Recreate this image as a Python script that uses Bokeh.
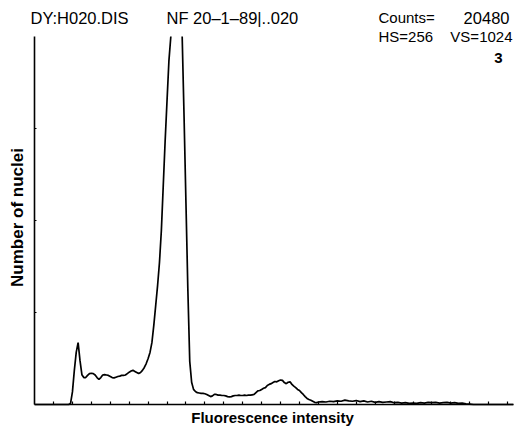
from bokeh.plotting import figure
from bokeh.models import Range1d, Label, FixedTicker
from bokeh.embed import file_html
from bokeh.resources import INLINE
import math

# ---- data ----
# the display is clipped at VS=1024; the main peak runs off scale between the two NaN-separated sides
channel = [0, 18, 19, 20, 21, 22, 23, 24, 25, 26, 27, 28, 29, 30, 31, 32, 33, 34, 35, 36,
           37, 38, 39, 40, 41, 42, 43, 44, 45, 46, 47, 48, 49, 50, 51, 52, 53, 54, 55, 56,
           57, 58, 59, 60, 61, 62, 63, 64, 65, 66, 67, 68, 69, 70, 71, 72, 75, 78, 79, 80,
           81, 82, 83, 84, 85, 86, 87, 88, 89, 90, 91, 92, 93, 94, 95, 96,
           97, 98, 99, 100, 101, 102, 103, 104, 105, 106, 107, 108, 109, 110, 111, 112, 113, 114, 115, 116,
           117, 118, 119, 120, 121, 122, 123, 124, 125, 126, 127, 128, 129, 130, 131, 132, 133, 134, 135, 136,
           137, 138, 139, 140, 141, 142, 143, 144, 145, 146, 147, 148, 149, 150, 152, 154, 156, 158, 160, 162,
           164, 166, 168, 170, 172, 174, 176, 178, 180, 182, 184, 186, 188, 190, 192, 194, 196, 198, 200, 202,
           204, 206, 208, 210, 212, 214, 216, 218, 220, 222, 224, 226, 228, 230, 232, 253]
counts = [0, 0, 3, 35, 95, 145, 172, 122, 83, 75, 75, 81, 86, 87, 86, 82, 75, 70, 75, 82,
          83, 82, 81, 78, 75, 74, 76, 78, 79, 81, 81, 82, 86, 90, 93, 95, 92, 89, 86, 89,
          95, 103, 114, 128, 145, 172, 220, 275, 331, 395, 484, 609, 734, 846, 957, 1024, float("nan"), 1024, 800, 560,
          320, 120, 62, 42, 36, 33, 32, 31, 31, 30, 28, 25, 22, 24, 28, 28,
          26, 26, 25, 25, 24, 22, 21, 22, 24, 25, 25, 26, 25, 25, 26, 25, 26, 26, 27, 28,
          33, 38, 39, 42, 45, 47, 53, 56, 58, 61, 64, 63, 66, 68, 67, 61, 58, 62, 63, 56,
          51, 47, 42, 39, 33, 28, 22, 17, 14, 12, 9, 6, 5, 7, 8, 7, 9, 8, 10, 9,
          12, 10, 9, 11, 8, 10, 7, 9, 6, 8, 6, 7, 8, 5, 6, 4, 5, 3, 4, 3,
          5, 4, 6, 5, 6, 4, 5, 6, 4, 5, 3, 4, 2, 1, 0, 0]

x_ticks = list(range(10, 260, 10))
y_ticks = [256, 512, 768]
x_extent = (0, 253)
y_extent = (0, 1024)

# page-pixel helpers (canvas covers the whole window)
def px_x(px):
    return (px - 34.1) / 1.892

def px_y(py):
    return (404 - py) / (368 / 1024)

W, H = 521, 426
FONT = "Liberation Sans"

p = figure(width=W, height=H, output_backend="svg", toolbar_location=None,
           x_range=Range1d(px_x(0), px_x(W)), y_range=Range1d(px_y(H), px_y(0)),
           min_border=0)
p.outline_line_color = None
p.xgrid.visible = False
p.ygrid.visible = False
p.background_fill_color = "white"
p.border_fill_color = "white"

for ax, ticks, ext in ((p.xaxis[0], x_ticks, x_extent), (p.yaxis[0], y_ticks, y_extent)):
    ax.fixed_location = 0
    ax.bounds = ext
    ax.ticker = FixedTicker(ticks=ticks)
    ax.major_label_overrides = {t: "" for t in ticks}
    ax.axis_line_color = "black"
    ax.axis_line_width = 1.6
    ax.major_tick_in = 3
    ax.major_tick_out = 0
    ax.major_tick_line_color = "black"
    ax.major_tick_line_width = 1.2
    ax.minor_tick_line_color = None
    ax.axis_label = None
p.yaxis[0].major_tick_in = 2

p.line(channel, counts, line_color="black", line_width=1.7)

def lab(txt, px, py, align="left", size="15px", style="normal", angle=0):
    p.add_layout(Label(x=px_x(px), y=px_y(py), text=txt, text_align=align,
                       text_baseline="middle", text_font=FONT, text_font_size=size,
                       text_font_style=style, text_color="black", angle=angle))

lab("DY:H020.DIS", 30, 17, size="16.5px")
lab("NF 20\u20131\u201389|..020", 166, 17, size="16.5px")
lab("Counts=", 378, 17, size="15px")
lab("20480", 509, 17, align="right", size="16.5px")
lab("HS=256", 378, 36, size="15px")
lab("VS=1024", 512, 36, align="right", size="15px")
lab("3", 502, 57, align="right", size="15px", style="bold")
lab("Fluorescence intensity", 272, 417, align="center", size="15px", style="bold")
lab("Number of nuclei", 17, 217, align="center", size="17px", style="bold", angle=math.pi / 2)

open("out.html", "w").write(file_html(p, INLINE))
